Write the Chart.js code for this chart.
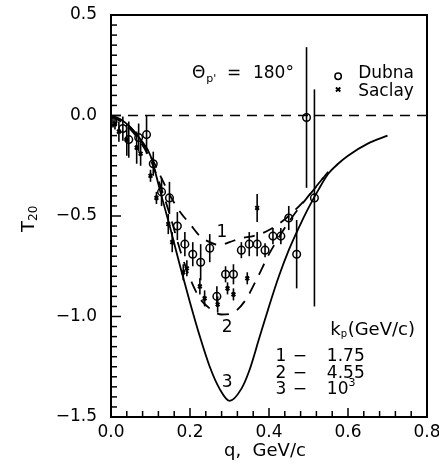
<!DOCTYPE html>
<html>
<head>
<meta charset="utf-8">
<script src="https://cdn.jsdelivr.net/npm/chart.js@4.4.1/dist/chart.umd.min.js"></script>
<style>
html,body{margin:0;padding:0;background:#fff;}
#wrap{width:439px;height:469px;}
</style>
</head>
<body>
<div id="wrap"><canvas id="c" width="439" height="469"></canvas></div>
<script>
// ====== DATA ======
// theory curves, k_p = 1.75 (1), 4.55 (2), 10^3 (3) GeV/c
const curve1Q = [0, 0.05, 0.1, 0.125, 0.15, 0.175, 0.2, 0.225, 0.25, 0.275, 0.3, 0.33, 0.36, 0.4, 0.45, 0.5, 0.55];
const curve1T = [0, -0.06, -0.2, -0.3, -0.4, -0.48, -0.54, -0.6, -0.63, -0.645, -0.63, -0.61, -0.6, -0.57, -0.5, -0.4, -0.28];

const curve2Q = [0, 0.05, 0.1, 0.125, 0.15, 0.175, 0.2, 0.225, 0.25, 0.28, 0.31, 0.34, 0.37, 0.4, 0.45, 0.5, 0.55];
const curve2T = [0, -0.07, -0.22, -0.35, -0.5, -0.67, -0.81, -0.91, -0.96, -0.99, -0.98, -0.92, -0.81, -0.69, -0.53, -0.4, -0.28];

const curve3Q = [0, 0.025, 0.05, 0.075, 0.1, 0.125, 0.15, 0.175, 0.2, 0.225, 0.25, 0.275, 0.3, 0.33, 0.35, 0.375, 0.4, 0.425, 0.45, 0.475, 0.5, 0.525, 0.55, 0.575, 0.6, 0.65, 0.7];
const curve3T = [0, -0.02, -0.06, -0.12, -0.2, -0.38, -0.56, -0.75, -0.93, -1.1, -1.25, -1.36, -1.42, -1.36, -1.27, -1.11, -0.95, -0.8, -0.67, -0.56, -0.46, -0.37, -0.29, -0.24, -0.2, -0.14, -0.1];

const zeroQ = [0, 0.8];
const zeroT = [0, 0];

// Dubna
const dubnaQ = [0.005, 0.03, 0.045, 0.07, 0.09, 0.107, 0.128, 0.148, 0.168, 0.187, 0.207, 0.227, 0.25, 0.268, 0.29, 0.31, 0.33, 0.35, 0.37, 0.39, 0.41, 0.43, 0.45, 0.47, 0.495, 0.515];
const dubnaT = [-0.03, -0.065, -0.12, -0.11, -0.095, -0.24, -0.38, -0.41, -0.55, -0.64, -0.69, -0.73, -0.66, -0.9, -0.79, -0.79, -0.67, -0.64, -0.64, -0.67, -0.6, -0.6, -0.51, -0.69, -0.01, -0.41];
const dubnaErr = [0.03, 0.06, 0.09, 0.07, 0.095, 0.06, 0.07, 0.08, 0.07, 0.06, 0.06, 0.09, 0.07, 0.05, 0.04, 0.05, 0.04, 0.06, 0.06, 0.035, 0.04, 0.04, 0.06, 0.17, 0.35, 0.54];

// Saclay
const saclayQ = [0.01, 0.02, 0.04, 0.065, 0.075, 0.1, 0.115, 0.145, 0.155, 0.183, 0.192, 0.225, 0.237, 0.27, 0.295, 0.31, 0.345, 0.37];
const saclayT = [-0.04, -0.08, -0.12, -0.16, -0.19, -0.3, -0.41, -0.54, -0.63, -0.78, -0.76, -0.85, -0.91, -0.94, -0.86, -0.89, -0.81, -0.46];
const saclayErr = [0.03, 0.05, 0.08, 0.08, 0.06, 0.03, 0.03, 0.05, 0.05, 0.04, 0.04, 0.04, 0.04, 0.04, 0.03, 0.03, 0.03, 0.07];

const xTicksMinor = 0.04;
const yTicksMinor = 0.05;

const FONT = '"DejaVu Sans", sans-serif';

function toPts(qs, ts){ return qs.map((q,i)=>({x:q, y:ts[i]})); }

// ====== PLUGINS ======
const errBars = {
  id:'errBars',
  beforeDatasetsDraw(chart){
    const {ctx, scales:{x,y}} = chart;
    ctx.save();
    ctx.strokeStyle='#000'; ctx.lineWidth=1.6;
    chart.data.datasets.forEach(ds=>{
      if(!ds.err) return;
      ds.data.forEach((p,i)=>{
        const px=x.getPixelForValue(p.x);
        ctx.beginPath();
        ctx.moveTo(px, y.getPixelForValue(p.y+ds.err[i]));
        ctx.lineTo(px, y.getPixelForValue(p.y-ds.err[i]));
        ctx.stroke();
      });
    });
    ctx.restore();
  }
};

const frame = {
  id:'frame',
  afterDraw(chart){
    const {ctx, chartArea:a, scales:{x,y}} = chart;
    ctx.save();
    ctx.strokeStyle='#000';
    ctx.lineWidth=2;
    ctx.strokeRect(a.left, a.top, a.right-a.left, a.bottom-a.top);
    ctx.lineWidth=1.5;
    const nx = Math.round((x.max-x.min)/xTicksMinor);
    for(let i=0;i<=nx;i++){
      const px = x.getPixelForValue(x.min+i*xTicksMinor);
      const len = i%5===0 ? 9 : 6;
      ctx.beginPath(); ctx.moveTo(px, a.bottom); ctx.lineTo(px, a.bottom-len); ctx.stroke();
    }
    const ny = Math.round((y.max-y.min)/yTicksMinor);
    for(let i=0;i<=ny;i++){
      const py = y.getPixelForValue(y.min+i*yTicksMinor);
      const len = i%10===0 ? 10 : 6;
      ctx.beginPath(); ctx.moveTo(a.left, py); ctx.lineTo(a.left+len, py); ctx.stroke();
    }
    ctx.restore();
  }
};

const labels = {
  id:'labels',
  afterDraw(chart){
    const {ctx, scales:{x,y}} = chart;
    const at = (q,t)=>[x.getPixelForValue(q), y.getPixelForValue(t)];
    const put = (s, px, py, size, align)=>{
      ctx.font = size+'px '+FONT;
      ctx.textAlign = align||'left';
      ctx.fillText(s, px, py);
      return ctx.measureText(s).width;
    };
    ctx.save();
    ctx.fillStyle='#000';
    ctx.textBaseline='middle';

    // theta label
    let [px,py] = at(0.205, 0.207);
    let w = put('\u0398', px, py, 17);
    put("p'", px+w+1, py+5, 11);
    put('=', px+35, py, 17);
    put('180\u00b0', px+61, py, 17);

    // legend
    [px,py] = at(0.575, 0.21);
    ctx.strokeStyle='#000'; ctx.lineWidth=1.5;
    ctx.beginPath(); ctx.arc(px, py+3, 3.2, 0, Math.PI*2); ctx.stroke();
    put('Dubna', px+20, py, 17);
    [px,py] = at(0.575, 0.117);
    ctx.lineWidth=1.8;
    ctx.beginPath(); ctx.moveTo(px-2.2, py-4.5); ctx.lineTo(px+2.2, py-0.5);
    ctx.moveTo(px+2.2, py-4.5); ctx.lineTo(px-2.2, py-0.5); ctx.stroke();
    put('Saclay', px+20, py, 17);

    // curve numbers
    [px,py] = at(0.281, -0.58); put('1', px, py, 17, 'center');
    [px,py] = at(0.294, -1.057); put('2', px, py, 17, 'center');
    [px,py] = at(0.294, -1.33); put('3', px, py, 17, 'center');

    // k_p key
    [px,py] = at(0.555, -1.07);
    w = put('k', px, py, 18);
    put('p', px+w, py+4, 10);
    put('(GeV/c)', px+w+7, py, 18);
    const rows = [['1','1.75'],['2','4.55'],['3','10']];
    rows.forEach((r,i)=>{
      const [qx,qy] = at(0.43, -1.2-i*0.083);
      put(r[0], qx, qy, 17, 'center');
      put('\u2212', qx+19, qy, 17, 'center');
      const ww = put(r[1], qx+46, qy, 17);
      if(i===2) put('3', qx+46+ww, qy-7, 11);
    });

    // axis titles
    const a = chart.chartArea;
    ctx.save();
    ctx.translate(29, (a.top+a.bottom)/2+16);
    ctx.rotate(-Math.PI/2);
    w = put('T', 0, 0, 18);
    put('20', w, 5, 12);
    ctx.restore();
    put('q,  GeV/c', (a.left+a.right)/2-45, 451, 18);
    ctx.restore();
  }
};

// ====== CHART ======
const lineDs = (qs, ts, dash)=>({
  data: toPts(qs, ts), showLine:true, pointRadius:0, borderColor:'#000', borderWidth:1.8,
  borderDash:dash, cubicInterpolationMode:'monotone', fill:false
});

new Chart(document.getElementById('c'), {
  type:'scatter',
  data:{
    datasets:[
      lineDs(curve3Q, curve3T, []),
      lineDs(curve2Q, curve2T, [12,9]),
      lineDs(curve1Q, curve1T, [11,9]),
      Object.assign(lineDs(zeroQ, zeroT, [10,7]), {borderWidth:1.6}),
      {label:'Dubna', data:toPts(dubnaQ, dubnaT), err:dubnaErr, pointStyle:'circle', pointRadius:3.8,
       borderColor:'#000', backgroundColor:'rgba(0,0,0,0)', borderWidth:1.5},
      {label:'Saclay', data:toPts(saclayQ, saclayT), err:saclayErr, pointStyle:'crossRot', pointRadius:2.6,
       borderColor:'#000', borderWidth:2}
    ]
  },
  options:{
    responsive:false, animation:false, devicePixelRatio:1, events:[],
    layout:{padding:{left:0, right:12, top:15, bottom:0}},
    plugins:{legend:{display:false}, tooltip:{enabled:false}},
    scales:{
      x:{type:'linear', min:0, max:0.8,
        grid:{display:false, drawTicks:false}, border:{display:false},
        ticks:{stepSize:0.2, color:'#000', padding:5, maxRotation:0, autoSkip:false,
          font:{family:FONT, size:17}, callback:v=>v.toFixed(1)},
        afterFit:s=>{ s.height=52; s.paddingLeft=0; s.paddingRight=0; }},
      y:{type:'linear', min:-1.5, max:0.5,
        grid:{display:false, drawTicks:false}, border:{display:false},
        ticks:{stepSize:0.5, color:'#000', padding:14,
          font:{family:FONT, size:17}, callback:v=>v.toFixed(1).replace('-0.0','0.0').replace('-','\u2212')},
        afterFit:s=>{ s.width=111; s.paddingTop=0; s.paddingBottom=0; }}
    }
  },
  plugins:[errBars, frame, labels]
});
</script>
</body>
</html>
